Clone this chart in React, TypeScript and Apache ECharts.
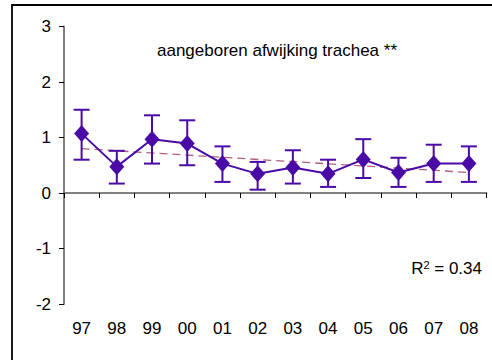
import React, { useEffect, useRef } from "react";
import * as echarts from "echarts";

const categories = ["97", "98", "99", "00", "01", "02", "03", "04", "05", "06", "07", "08"];
const values = [1.07, 0.475, 0.97, 0.89, 0.53, 0.345, 0.46, 0.345, 0.605, 0.37, 0.53, 0.53];
const lower = [0.6, 0.17, 0.53, 0.5, 0.2, 0.06, 0.17, 0.11, 0.27, 0.11, 0.2, 0.2];
const upper = [1.5, 0.76, 1.4, 1.31, 0.84, 0.56, 0.77, 0.6, 0.97, 0.635, 0.87, 0.84];
const trendStart = 0.8;
const trendEnd = 0.37;
const titleText = "aangeboren afwijking trachea **";
const rSquared = "0.34";

const PURPLE = "#4a0aa6";
const FONT = "Liberation Sans, Arial, sans-serif";

export default function App() {
  const ref = useRef<HTMLDivElement>(null);
  useEffect(() => {
    if (!ref.current) return;
    const chart = echarts.init(ref.current, null, { renderer: "svg" });
    const errData = categories.map((_, i) => [i, lower[i], upper[i]]);
    chart.setOption({
      animation: false,
      backgroundColor: "#ffffff",
      grid: { left: 64, right: 5.5, top: 26.5, bottom: 56 },
      graphic: [
        {
          type: "rect",
          shape: { x: 12, y: 5, width: 500, height: 400 },
          style: { fill: "none", stroke: "#000", lineWidth: 1.8 },
          silent: true,
        },
        {
          type: "text",
          x: 277,
          y: 50,
          style: {
            text: titleText,
            font: `17px ${FONT}`,
            fill: "#000",
            align: "center",
            verticalAlign: "middle",
          },
        },
        {
          type: "text",
          x: 482,
          y: 268,
          style: {
            text: "{r|R}{s|2}{r| = " + rSquared + "}",
            align: "right",
            verticalAlign: "middle",
            rich: {
              r: { font: `17px ${FONT}`, fill: "#000", verticalAlign: "bottom" },
              s: { font: `11px ${FONT}`, fill: "#000", verticalAlign: "top", padding: [0, 0, 7, 0] },
            },
          },
        },
      ],
      xAxis: {
        type: "category",
        data: categories,
        boundaryGap: true,
        axisLine: { lineStyle: { color: "#808080", width: 2 } },
        axisTick: { show: true, length: 5, lineStyle: { color: "#000", width: 1 } },
        axisLabel: { color: "#000", fontSize: 17, fontFamily: FONT, margin: 16 },
        splitLine: { show: false },
      },
      yAxis: {
        type: "value",
        min: -2,
        max: 3,
        interval: 1,
        axisLine: { show: true, lineStyle: { color: "#808080", width: 2 } },
        axisTick: { show: true, length: 5, lineStyle: { color: "#000", width: 1 } },
        axisLabel: { color: "#000", fontSize: 17, fontFamily: FONT, margin: 13 },
        splitLine: { show: false },
      },
      series: [
        {
          type: "line",
          data: [
            [0, trendStart],
            [categories.length - 1, trendEnd],
          ],
          showSymbol: false,
          symbol: "none",
          lineStyle: { color: "#b0607e", width: 1.3, type: [8, 5] },
          z: 1,
        },
        {
          type: "custom",
          data: errData,
          renderItem: (params: any, api: any) => {
            const x = api.value(0);
            const lo = api.coord([x, api.value(1)]);
            const hi = api.coord([x, api.value(2)]);
            const w = 8;
            const st = { stroke: PURPLE, lineWidth: 2 };
            return {
              type: "group",
              children: [
                { type: "line", shape: { x1: lo[0], y1: lo[1], x2: hi[0], y2: hi[1] }, style: st },
                { type: "line", shape: { x1: lo[0] - w, y1: lo[1], x2: lo[0] + w, y2: lo[1] }, style: st },
                { type: "line", shape: { x1: hi[0] - w, y1: hi[1], x2: hi[0] + w, y2: hi[1] }, style: st },
              ],
            };
          },
          z: 2,
        },
        {
          type: "line",
          data: values,
          symbol: "diamond",
          symbolSize: [15, 17],
          itemStyle: { color: PURPLE },
          lineStyle: { color: PURPLE, width: 2 },
          z: 3,
        },
      ],
    });
    return () => chart.dispose();
  }, []);
  return (
    <div
      ref={ref}
      style={{ position: "fixed", left: 0, top: 0, width: 492, height: 360 }}
    />
  );
}
